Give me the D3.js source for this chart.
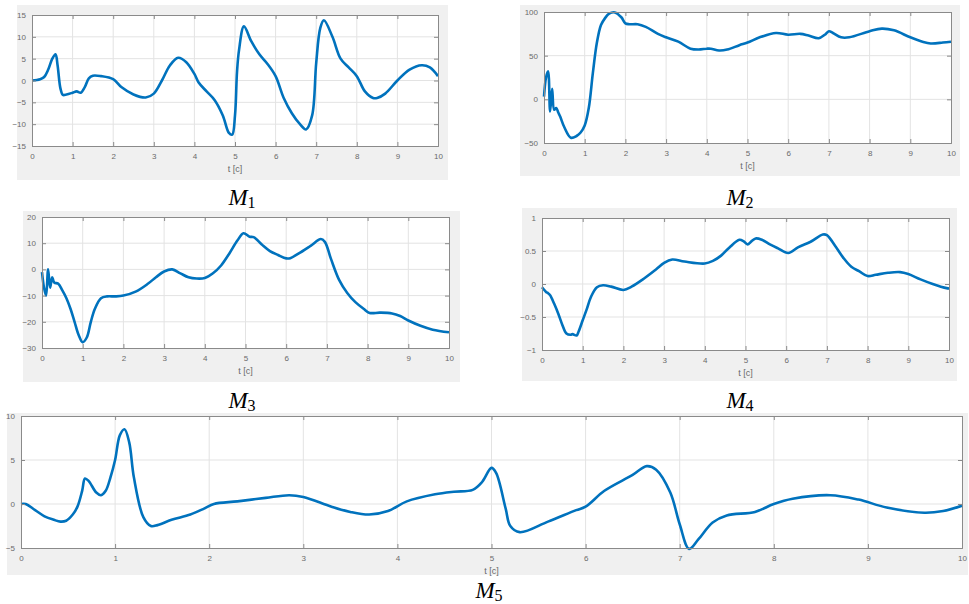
<!DOCTYPE html>
<html>
<head>
<meta charset="utf-8">
<script src="https://cdn.jsdelivr.net/npm/d3@7"></script>
<style>
  html, body { margin: 0; padding: 0; background: #ffffff; }
  svg { display: block; }
</style>
</head>
<body>
<svg id="chart" width="969" height="604"></svg>
<script>
// ---------- data ----------
const xTicks = [0, 1, 2, 3, 4, 5, 6, 7, 8, 9, 10];

const m1T = [0, 0.2, 0.3, 0.4, 0.5, 0.58, 0.63, 0.7, 0.76, 0.85, 1.0, 1.1, 1.2, 1.3, 1.4, 1.5, 1.7, 2.0, 2.2, 2.5, 2.8, 3.0, 3.2, 3.4, 3.6, 3.8, 4.0, 4.1, 4.3, 4.5, 4.7, 4.85, 4.93, 5.0, 5.05, 5.1, 5.22, 5.4, 5.6, 5.8, 6.0, 6.2, 6.4, 6.6, 6.75, 6.9, 7.0, 7.1, 7.19, 7.4, 7.6, 7.8, 8.0, 8.2, 8.4, 8.5, 8.7, 9.0, 9.3, 9.6, 9.8, 10];
const m1V = [0, 0.3, 0.8, 2.5, 5, 6, 3.5, -1.8, -3.3, -3.2, -2.8, -2.5, -2.8, -1.5, 0.5, 1.1, 1.0, 0.3, -1.5, -3.2, -3.9, -3.0, 0, 3.5, 5.2, 4.2, 1.5, -0.4, -2.5, -4.5, -8, -12, -12.4, -8, 2, 7, 12.4, 9, 6, 3.8, 1.0, -4, -7.5, -10, -11.2, -8, 4, 12, 13.8, 10, 5, 3, 1, -2.5, -4, -4.0, -3, 0, 2.5, 3.5, 3, 1];

const m2T = [0, 0.05, 0.1, 0.15, 0.2, 0.25, 0.3, 0.35, 0.4, 0.5, 0.66, 0.8, 0.9, 1.0, 1.1, 1.2, 1.3, 1.4, 1.5, 1.6, 1.74, 1.9, 2.0, 2.1, 2.3, 2.5, 2.8, 3.0, 3.3, 3.6, 3.8, 4.0, 4.1, 4.3, 4.5, 4.8, 5.0, 5.3, 5.7, 6.0, 6.3, 6.5, 6.75, 6.9, 7.0, 7.1, 7.3, 7.5, 8.0, 8.3, 8.6, 9.0, 9.3, 9.5, 9.8, 10];
const m2V = [3, 25, 32, -14, 12, -12, -10, -15, -20, -32, -44, -42, -38, -30, -10, 30, 65, 85, 93, 98, 99.5, 94, 87, 86, 86, 83, 75, 71, 66, 58, 57, 58, 58, 56, 57, 62, 65, 71, 76, 74, 75, 73, 70, 74, 78, 76, 71, 71, 78, 81, 79, 71, 66, 64, 65, 66];

const m3T = [0, 0.05, 0.1, 0.15, 0.2, 0.25, 0.3, 0.4, 0.5, 0.6, 0.7, 0.8, 0.9, 1.0, 1.1, 1.2, 1.3, 1.45, 1.6, 1.8, 2.0, 2.3, 2.6, 2.8, 3.0, 3.2, 3.4, 3.6, 3.8, 4.0, 4.2, 4.4, 4.6, 4.8, 4.95, 5.1, 5.2, 5.4, 5.6, 5.8, 6.0, 6.1, 6.3, 6.6, 6.85, 6.95, 7.1, 7.3, 7.5, 7.7, 7.9, 8.05, 8.3, 8.6, 8.8, 9.0, 9.3, 9.6, 10];
const m3V = [-1, -7, -10, 0, -7, -3, -5, -5.5, -8, -11, -15, -20, -25, -27.8, -26, -20, -15, -11, -10.3, -10.3, -10, -8.5, -5.5, -3, -0.8, 0, -1.5, -3, -3.5, -3.3, -1.5, 1.5, 6, 11, 13.8, 12.5, 12.3, 9.5, 7, 5.5, 4.2, 4.3, 6, 9, 11.6, 10.5, 4, -4, -9, -12.5, -15, -16.6, -16.5, -16.8, -17.8, -19.5, -21.5, -23, -24];

const m4T = [0, 0.1, 0.15, 0.2, 0.3, 0.4, 0.5, 0.6, 0.7, 0.75, 0.85, 0.9, 1.0, 1.1, 1.2, 1.35, 1.5, 1.7, 2.0, 2.2, 2.5, 2.8, 3.0, 3.2, 3.5, 4.0, 4.2, 4.4, 4.6, 4.85, 4.95, 5.05, 5.15, 5.25, 5.4, 5.6, 5.8, 6.05, 6.3, 6.6, 6.9, 7.0, 7.2, 7.4, 7.6, 7.8, 8.0, 8.2, 8.5, 8.8, 9.0, 9.3, 9.6, 9.8, 10];
const m4V = [-0.05, -0.12, -0.14, -0.17, -0.3, -0.45, -0.62, -0.75, -0.77, -0.76, -0.78, -0.72, -0.55, -0.38, -0.2, -0.05, -0.02, -0.04, -0.09, -0.04, 0.08, 0.22, 0.32, 0.37, 0.34, 0.31, 0.35, 0.43, 0.55, 0.67, 0.65, 0.6, 0.65, 0.69, 0.67, 0.6, 0.54, 0.47, 0.56, 0.64, 0.75, 0.74, 0.58, 0.4, 0.26, 0.19, 0.12, 0.14, 0.17, 0.18, 0.15, 0.07, 0, -0.04, -0.07];

const m5T = [0, 0.05, 0.15, 0.25, 0.35, 0.42, 0.48, 0.55, 0.6, 0.65, 0.68, 0.72, 0.8, 0.85, 0.9, 0.95, 1.0, 1.05, 1.1, 1.15, 1.2, 1.3, 1.38, 1.45, 1.6, 1.8, 1.95, 2.05, 2.3, 2.6, 2.85, 3.0, 3.3, 3.5, 3.7, 3.9, 4.1, 4.4, 4.6, 4.8, 4.9, 5.0, 5.05, 5.15, 5.2, 5.3, 5.6, 5.9, 6.0, 6.2, 6.5, 6.65, 6.75, 6.9, 7.0, 7.1, 7.2, 7.35, 7.5, 7.8, 8.0, 8.2, 8.6, 8.9, 9.2, 9.6, 9.8, 10];
const m5V = [0, 0, -0.7, -1.4, -1.8, -2.0, -1.9, -1.2, -0.3, 1.5, 2.9, 2.6, 1.3, 1.0, 1.5, 3, 5, 7.8, 8.5, 7, 3, -1.5, -2.5, -2.4, -1.8, -1.2, -0.5, 0, 0.3, 0.7, 1.0, 0.8, -0.3, -0.9, -1.2, -0.8, 0.3, 1.1, 1.4, 1.6, 2.5, 4.1, 3.5, -0.5, -2.5, -3.2, -2.0, -0.7, -0.3, 1.5, 3.3, 4.3, 3.9, 1.3, -2.3, -5.1, -4, -2.1, -1.3, -0.9, 0, 0.6, 1.0, 0.5, -0.4, -1.0, -0.8, -0.2];

const m1Ticks = [-15, -10, -5, 0, 5, 10, 15];
const m2Ticks = [-50, 0, 50, 100];
const m3Ticks = [-30, -20, -10, 0, 10, 20];
const m4Ticks = [-1, -0.5, 0, 0.5, 1];
const m5Ticks = [-5, 0, 5, 10];

const panelNames = ["1", "2", "3", "4", "5"];
const xLabel = "t [c]";

// ---------- layout ----------
const panels = [
  { t: m1T, v: m1V, ticks: m1Ticks, name: panelNames[0], bg: [17, 5, 448, 180], plot: [32, 15, 438, 146], lab: [242, 205] },
  { t: m2T, v: m2V, ticks: m2Ticks, name: panelNames[1], bg: [520, 5, 960, 176], plot: [544, 12, 951, 143], lab: [740, 205] },
  { t: m3T, v: m3V, ticks: m3Ticks, name: panelNames[2], bg: [23, 211, 460, 382], plot: [42, 217, 449, 348], lab: [242, 408] },
  { t: m4T, v: m4V, ticks: m4Ticks, name: panelNames[3], bg: [522, 208, 957, 381], plot: [542, 218, 949, 350], lab: [740, 408] },
  { t: m5T, v: m5V, ticks: m5Ticks, name: panelNames[4], bg: [7, 413, 968, 575], plot: [21, 416, 962, 548], lab: [489, 598] }
];

const svg = d3.select("#chart");
const tickFont = "'Liberation Sans', Arial, sans-serif";

panels.forEach((p, i) => {
  const [bx0, by0, bx1, by1] = p.bg;
  const [px0, py0, px1, py1] = p.plot;
  const g = svg.append("g");

  g.append("rect").attr("x", bx0).attr("y", by0).attr("width", bx1 - bx0).attr("height", by1 - by0)
    .attr("fill", "#f0f0f0");
  g.append("rect").attr("x", px0).attr("y", py0).attr("width", px1 - px0).attr("height", py1 - py0)
    .attr("fill", "#ffffff");

  const x = d3.scaleLinear().domain([0, 10]).range([px0, px1]);
  const yd = d3.extent(p.ticks);
  const y = d3.scaleLinear().domain(yd).range([py1, py0]);

  // grid
  g.append("g").selectAll("line").data(xTicks.slice(1, -1)).join("line")
    .attr("x1", d => x(d)).attr("x2", d => x(d)).attr("y1", py0).attr("y2", py1)
    .attr("stroke", "#e3e3e3").attr("stroke-width", 1);
  g.append("g").selectAll("line").data(p.ticks.slice(1, -1)).join("line")
    .attr("y1", d => y(d)).attr("y2", d => y(d)).attr("x1", px0).attr("x2", px1)
    .attr("stroke", "#e3e3e3").attr("stroke-width", 1);

  // line
  const line = d3.line().x(d => x(d[0])).y(d => y(d[1])).curve(d3.curveCatmullRom.alpha(0.5));
  g.append("path").datum(p.t.map((t, k) => [t, p.v[k]]))
    .attr("d", line).attr("fill", "none").attr("stroke", "#0072BD")
    .attr("stroke-width", 2.6).attr("stroke-linejoin", "round");

  // axes (MATLAB style: ticks inward)
  const tl = 4;
  const ax = d3.axisBottom(x).tickValues(xTicks).tickSize(-tl).tickPadding(7).tickFormat(d3.format("d"));
  const axT = d3.axisTop(x).tickValues(xTicks).tickSize(-tl).tickFormat("");
  const fmt = d => (Math.abs(d) < 1 && d !== 0) ? d3.format(".1f")(d) : d3.format("d")(d);
  const ay = d3.axisLeft(y).tickValues(p.ticks).tickSize(-tl).tickPadding(6).tickFormat(fmt);
  const ayR = d3.axisRight(y).tickValues(p.ticks).tickSize(-tl).tickFormat("");

  [[ax, `translate(0,${py1})`], [axT, `translate(0,${py0})`], [ay, `translate(${px0},0)`], [ayR, `translate(${px1},0)`]]
    .forEach(([a, tr]) => {
      const ag = g.append("g").attr("transform", tr).call(a);
      ag.select(".domain").attr("stroke", "#8a8a8a");
      ag.selectAll(".tick line").attr("stroke", "#8a8a8a");
      ag.selectAll("text").attr("fill", "#6a6a6a").attr("font-family", tickFont).attr("font-size", 8);
    });

  // x label
  g.append("text").attr("x", (px0 + px1) / 2).attr("y", py1 + 26)
    .attr("text-anchor", "middle").attr("font-family", tickFont).attr("font-size", 9)
    .attr("fill", "#6a6a6a").text(xLabel);

  // panel label M_i
  const lt = svg.append("text").attr("x", p.lab[0]).attr("y", p.lab[1])
    .attr("text-anchor", "middle").attr("font-family", "'Liberation Serif', 'Times New Roman', serif")
    .attr("fill", "#000");
  lt.append("tspan").attr("font-style", "italic").attr("font-size", 23).text("M");
  lt.append("tspan").attr("font-size", 16).attr("dy", 3).text(p.name);
});
</script>
</body>
</html>
